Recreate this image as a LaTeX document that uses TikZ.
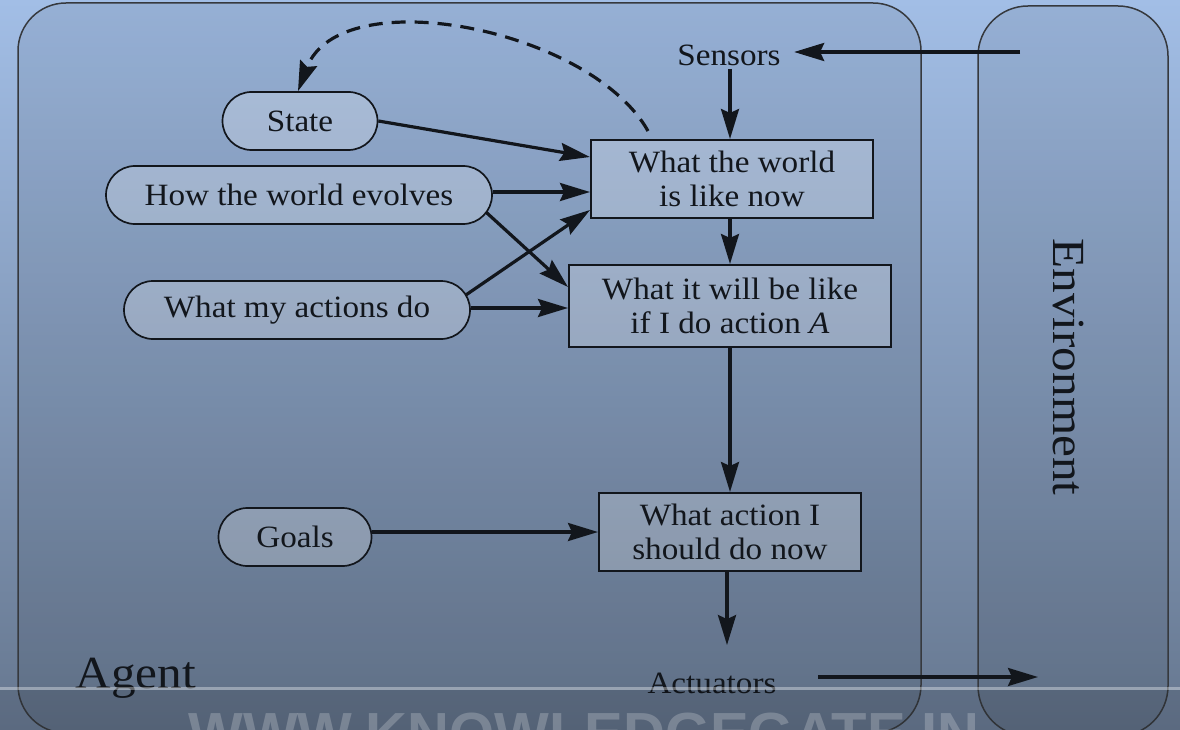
\documentclass[tikz,border=0pt]{standalone}
\usepackage{fontspec}
\setmainfont[FakeStretch=1.07]{Liberation Serif}
\newfontfamily\wmfont{Liberation Sans}
\usetikzlibrary{shapes.misc,arrows.meta,calc}
\definecolor{bgtop}{HTML}{A2BEE6}
\definecolor{bgmid}{HTML}{8BA6CB}
\definecolor{bgbot}{HTML}{66778F}
\definecolor{ink}{HTML}{12161C}
\tikzset{
  txt/.style={font=\fontsize{31}{34}\selectfont, text=ink, align=center},
  pill/.style={txt, rounded rectangle, draw=ink, line width=1.7pt, fill=white, fill opacity=0.22, text opacity=1, minimum height=58pt, inner xsep=0pt},
  box/.style={txt, rectangle, draw=ink, line width=2pt, fill=white, fill opacity=0.22, text opacity=1, inner sep=0pt},
  frame/.style={draw=ink!85, line width=1.5pt, fill=black, fill opacity=0.07},
  arr/.style={draw=ink, line width=3.2pt, -{Stealth[length=30pt,width=18pt,inset=4pt]}},
  dasharr/.style={arr, dash pattern=on 14pt off 9pt}
}
\begin{document}
\begin{tikzpicture}[x=1pt,y=-1pt]
\useasboundingbox (0,0) rectangle (1180,730);
\clip (0,0) rectangle (1180,730);
\shade[top color=bgtop, middle color=bgmid, bottom color=bgbot] (0,0) rectangle (1180,730);
% frames
\draw[frame, rounded corners=48pt] (18,3) rectangle (921,733);
\draw[frame, rounded corners=50pt] (978,6) rectangle (1168,736);
% labels
\node[font=\fontsize{46}{50}\selectfont, text=ink, anchor=base west] (agent) at (72,688) {Agent};
\node[font=\fontsize{46}{50}\selectfont, text=ink, rotate=-90] (env) at (1068,367) {Environment};
\node[txt] (sens) at (729,55) {Sensors};
\node[txt] (act) at (712,683) {Actuators};
% nodes
\node[pill, minimum width=155pt] (state) at (300,121) {State};
\node[pill, minimum width=386pt] (ev) at (299,195) {How the world evolves};
\node[pill, minimum width=346pt] (ad) at (297,310) {What my actions do};
\node[pill, minimum width=153pt] (goals) at (295,537) {Goals};
\node[box, minimum width=282pt, minimum height=78pt] (wn) at (732,179) {What the world\\is like now};
\node[box, minimum width=322pt, minimum height=82pt] (wb) at (730,306) {What it will be like\\ if I do action \textit{A}};
\node[box, minimum width=262pt, minimum height=78pt] (an) at (730,532) {What action I\\should do now};
\coordinate (envin) at (1020,52);
\coordinate (envout) at (1038,677);
% connectors
\draw[arr, shorten >=10pt] (envin) -- (sens.east |- envin);
\draw[arr] (sens.south -| wb.north) -- (wn.north -| wb.north);
\draw[arr] (state.east) -- ([yshift=22pt]wn.west);
\draw[arr] ([yshift=3pt]ev.east) -- ([yshift=-13pt]wn.west);
\draw[arr] ([xshift=-7pt,yshift=-17pt]ev.east) -- ([yshift=19pt]wb.west);
\draw[arr] ([xshift=-5pt,yshift=15pt]ad.east) -- ([yshift=-31pt]wn.west);
\draw[arr] ([yshift=2pt]ad.east) -- ([yshift=-2pt]wb.west);
\draw[arr] (wn.south -| wb.north) -- (wb.north);
\draw[arr] (wb.south) -- (an.north);
\draw[arr] (goals.east |- an.west) -- (an.west);
\draw[arr, shorten >=24pt] ([xshift=-3pt]an.south) -- ([xshift=-3pt]an.south |- act.north);
\draw[arr, shorten <=38pt] (act.east |- envout) -- (envout);
\draw[dasharr] ([xshift=-84pt,yshift=8pt]wn.north) .. controls (590,28) and (340,-20) .. ([xshift=-2pt]state.north);
% video overlay
\fill[black, opacity=0.10] (0,690) rectangle (1180,730);
\draw[white, opacity=0.35, line width=3pt] (0,688) -- (1180,688);
\node[font=\wmfont\bfseries\fontsize{58}{60}\selectfont, text=white, opacity=0.22, anchor=base] (wm) at (584,753) {WWW.KNOWLEDGEGATE.IN};
\end{tikzpicture}
\end{document}
